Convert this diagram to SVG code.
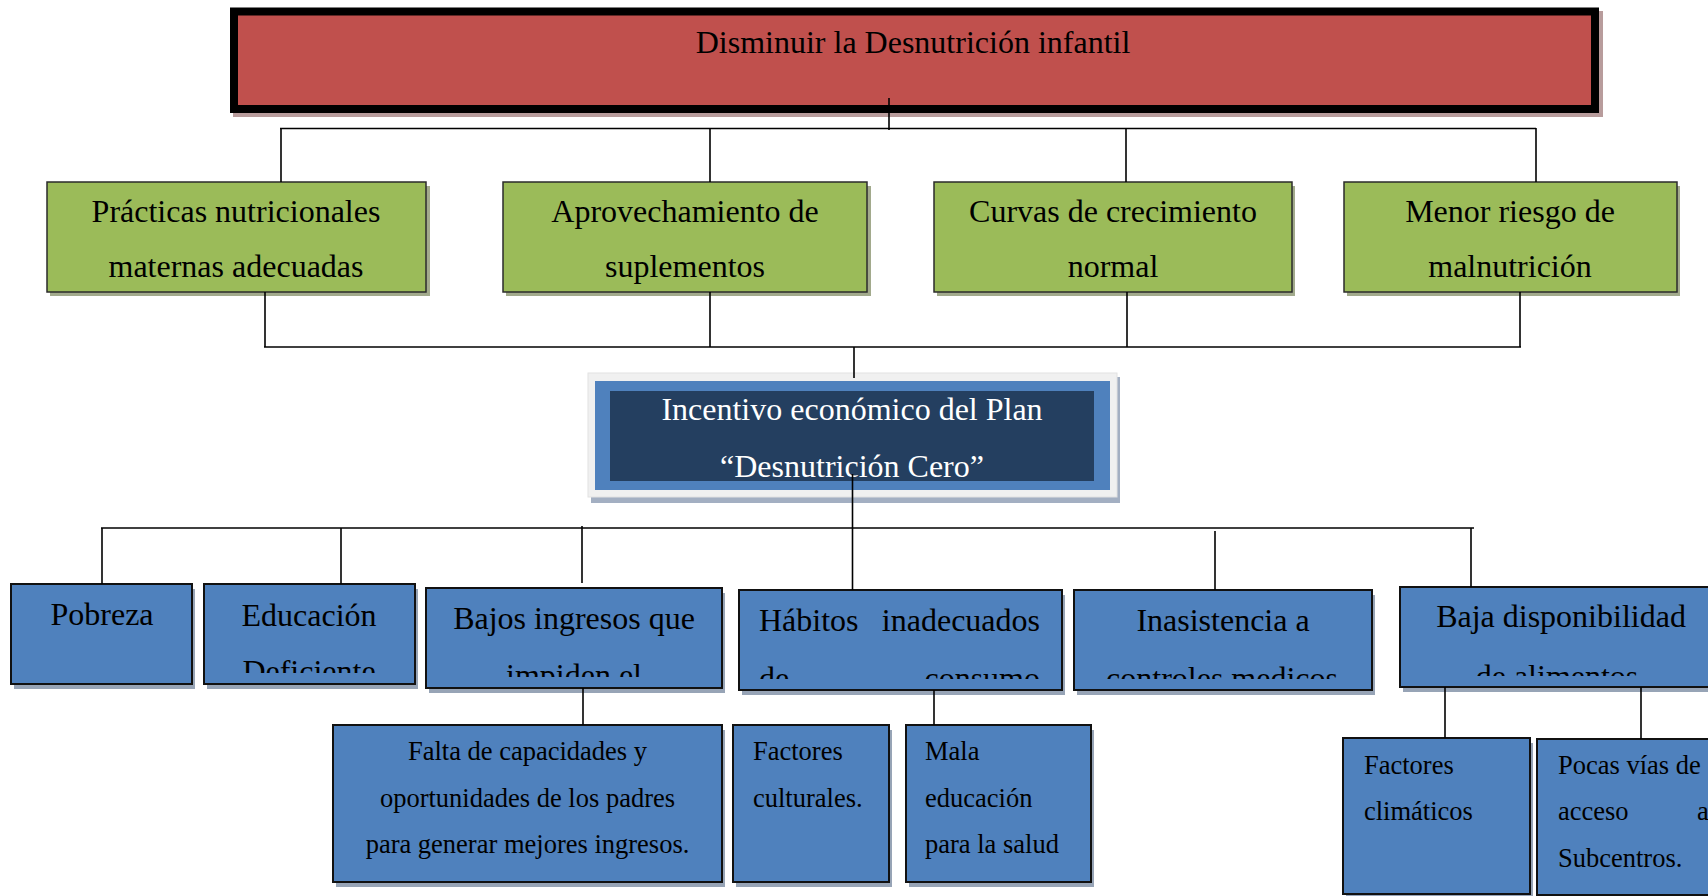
<svg xmlns="http://www.w3.org/2000/svg" width="1708" height="896" viewBox="0 0 1708 896">
<style>
text{font-family:"Liberation Serif","Times New Roman",serif;fill:#000}
.t32{font-size:32px}
.t26{font-size:26.5px}
.c{text-anchor:middle}
.e{text-anchor:end}
.w{fill:#fff}
.green{fill:#9bbb59;stroke:#2b2b2b;stroke-width:1.5}
.gsh{fill:#a2aa8c}
.blue{fill:#4f81bd;stroke:#111;stroke-width:2}
.bsh{fill:#97a4b6}
.con line{stroke:#000;stroke-width:1.6}
</style>
<defs>
<clipPath id="cEdu"><rect x="204" y="584" width="212" height="89"/></clipPath>
<clipPath id="cBaj"><rect x="426" y="588" width="296" height="89"/></clipPath>
<clipPath id="cHab"><rect x="739" y="590" width="323" height="89"/></clipPath>
<clipPath id="cIna"><rect x="1074" y="590" width="298" height="89"/></clipPath>
<clipPath id="cBdi"><rect x="1400" y="587" width="320" height="89"/></clipPath>
</defs>
<rect width="1708" height="896" fill="#fff"/>

<g id="n-top">
<rect x="233" y="11" width="1370" height="106" fill="#b89c9c"/>
<rect x="234" y="11.5" width="1361" height="97.5" fill="#c0504d" stroke="#000" stroke-width="8"/>
<text class="t32 c" x="913" y="53">Disminuir la Desnutrición infantil</text>
</g>

<g id="n-g1">
<rect x="50" y="186" width="380" height="110" class="gsh"/>
<rect x="47" y="182" width="379" height="110" class="green"/>
<text class="t32 c" x="236" y="222">Prácticas nutricionales</text>
<text class="t32 c" x="236" y="277">maternas adecuadas</text>
</g>
<g id="n-g2">
<rect x="506" y="186" width="365" height="110" class="gsh"/>
<rect x="503" y="182" width="364" height="110" class="green"/>
<text class="t32 c" x="685" y="222">Aprovechamiento de</text>
<text class="t32 c" x="685" y="277">suplementos</text>
</g>
<g id="n-g3">
<rect x="937" y="186" width="358" height="110" class="gsh"/>
<rect x="934" y="182" width="358" height="110" class="green"/>
<text class="t32 c" x="1113" y="222">Curvas de crecimiento</text>
<text class="t32 c" x="1113" y="277">normal</text>
</g>
<g id="n-g4">
<rect x="1347" y="186" width="333" height="110" class="gsh"/>
<rect x="1344" y="182" width="333" height="110" class="green"/>
<text class="t32 c" x="1510" y="222">Menor riesgo de</text>
<text class="t32 c" x="1510" y="277">malnutrición</text>
</g>

<g id="n-center">
<rect x="591" y="377" width="529" height="126" fill="#a3afc2"/>
<rect x="588" y="373" width="529" height="124" fill="#f0f0f0" stroke="#e2e2e2" stroke-width="1"/>
<rect x="595" y="381" width="515" height="109" fill="#4f81bd"/>
<rect x="610" y="391" width="484" height="90" fill="#243f60"/>
<text class="t32 c w" x="852" y="420">Incentivo económico del Plan</text>
<text class="t32 c w" x="852" y="477">“Desnutrición Cero”</text>
</g>

<g id="n-pobreza">
<rect x="14" y="589" width="181" height="100" class="bsh"/>
<rect x="11" y="584" width="181" height="100" class="blue"/>
<text class="t32 c" x="102" y="625">Pobreza</text>
</g>
<g id="n-educacion">
<rect x="207" y="589" width="211" height="100" class="bsh"/>
<rect x="204" y="584" width="211" height="100" class="blue"/>
<g clip-path="url(#cEdu)">
<text class="t32 c" x="309" y="626">Educación</text>
<text class="t32 c" x="309" y="682">Deficiente</text>
</g>
</g>
<g id="n-bajos">
<rect x="429" y="593" width="296" height="100" class="bsh"/>
<rect x="426" y="588" width="296" height="100" class="blue"/>
<g clip-path="url(#cBaj)">
<text class="t32 c" x="574" y="629">Bajos ingresos que</text>
<text class="t32 c" x="574" y="686">impiden el</text>
</g>
</g>
<g id="n-habitos">
<rect x="742" y="595" width="323" height="100" class="bsh"/>
<rect x="739" y="590" width="323" height="100" class="blue"/>
<g clip-path="url(#cHab)">
<text class="t32" x="759" y="631">Hábitos</text>
<text class="t32 e" x="1040" y="631">inadecuados</text>
<text class="t32" x="759" y="689">de</text>
<text class="t32 e" x="1040" y="689">consumo</text>
</g>
</g>
<g id="n-inasistencia">
<rect x="1077" y="595" width="298" height="100" class="bsh"/>
<rect x="1074" y="590" width="298" height="100" class="blue"/>
<g clip-path="url(#cIna)">
<text class="t32 c" x="1223" y="631">Inasistencia a</text>
<text class="t32 c" x="1222" y="689">controles medicos</text>
</g>
</g>
<g id="n-baja">
<rect x="1403" y="592" width="320" height="100" class="bsh"/>
<rect x="1400" y="587" width="320" height="100" class="blue"/>
<g clip-path="url(#cBdi)">
<text class="t32 c" x="1561" y="627">Baja disponibilidad</text>
<text class="t32 c" x="1557" y="687">de alimentos</text>
</g>
</g>

<g id="n-falta">
<rect x="336" y="730" width="389" height="157" class="bsh"/>
<rect x="333" y="725" width="389" height="157" class="blue"/>
<text class="t26 c" x="527.5" y="760">Falta de capacidades y</text>
<text class="t26 c" x="527.5" y="807">oportunidades de los padres</text>
<text class="t26 c" x="527.5" y="853">para generar mejores ingresos.</text>
</g>
<g id="n-factores-cult">
<rect x="736" y="730" width="156" height="157" class="bsh"/>
<rect x="733" y="725" width="156" height="157" class="blue"/>
<text class="t26" x="753" y="760">Factores</text>
<text class="t26" x="753" y="807">culturales.</text>
</g>
<g id="n-mala">
<rect x="909" y="730" width="185" height="157" class="bsh"/>
<rect x="906" y="725" width="185" height="157" class="blue"/>
<text class="t26" x="925" y="760">Mala</text>
<text class="t26" x="925" y="807">educación</text>
<text class="t26" x="925" y="853">para la salud</text>
</g>
<g id="n-factores-clim">
<rect x="1346" y="743" width="187" height="156" class="bsh"/>
<rect x="1343" y="738" width="187" height="156" class="blue"/>
<text class="t26" x="1364" y="774">Factores</text>
<text class="t26" x="1364" y="820">climáticos</text>
</g>
<g id="n-pocas">
<rect x="1540" y="744" width="180" height="156" class="bsh"/>
<rect x="1537" y="739" width="180" height="156" class="blue"/>
<text class="t26" x="1558" y="774">Pocas vías de</text>
<text class="t26" x="1558" y="820">acceso</text>
<text class="t26" x="1697" y="820">a</text>
<text class="t26" x="1558" y="867">Subcentros.</text>
</g>

<g id="connectors" class="con">
<line x1="889" y1="98" x2="889" y2="130"/>
<line x1="280" y1="128.5" x2="1536" y2="128.5"/>
<line x1="281" y1="128" x2="281" y2="182"/>
<line x1="710" y1="128" x2="710" y2="182"/>
<line x1="1126" y1="128" x2="1126" y2="182"/>
<line x1="1536" y1="128" x2="1536" y2="182"/>
<line x1="265" y1="292" x2="265" y2="347"/>
<line x1="710" y1="292" x2="710" y2="347"/>
<line x1="1127" y1="292" x2="1127" y2="347"/>
<line x1="1520" y1="292" x2="1520" y2="347"/>
<line x1="264" y1="347" x2="1521" y2="347"/>
<line x1="854" y1="347" x2="854" y2="378"/>
<line x1="852.5" y1="474" x2="852.5" y2="590"/>
<line x1="101" y1="528" x2="1474" y2="528"/>
<line x1="102" y1="528" x2="102" y2="584"/>
<line x1="341" y1="528" x2="341" y2="584"/>
<line x1="582" y1="526" x2="582" y2="583"/>
<line x1="1215" y1="531" x2="1215" y2="590"/>
<line x1="1471" y1="528" x2="1471" y2="587"/>
<line x1="583" y1="688" x2="583" y2="725"/>
<line x1="934" y1="690" x2="934" y2="725"/>
<line x1="1445" y1="687" x2="1445" y2="738"/>
<line x1="1641" y1="687" x2="1641" y2="739"/>
</g>
</svg>
